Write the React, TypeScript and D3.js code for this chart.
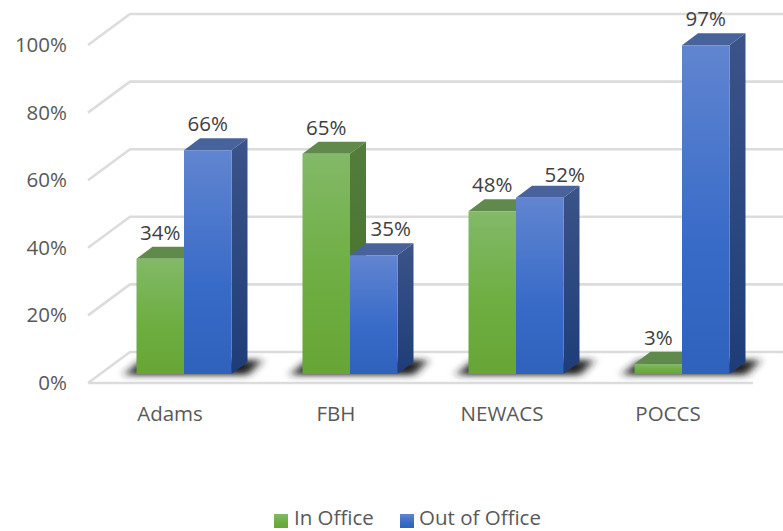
import React from 'react';
import * as d3 from 'd3';

const categories = ['Adams', 'FBH', 'NEWACS', 'POCCS'];
const seriesNames = ['In Office', 'Out of Office'];
const inOffice = [34, 65, 48, 3];
const outOfOffice = [66, 35, 52, 97];
const ticks = [0, 20, 40, 60, 80, 100];

const W = 783;
const H = 531;
const depthX = 16;
const depthY = 12;

// front face of the bars, axis front edge, and back wall
const y = d3.scaleLinear().domain([0, 100]).range([374, 35]);
const yAxis = d3.scaleLinear().domain([0, 100]).range([383, 45]);
const yBack = d3.scaleLinear().domain([0, 100]).range([352, 14]);
const x = d3.scaleBand().domain(categories).range([101, 765]).paddingInner(0);
const inner = d3.scaleBand().domain(seriesNames).range([-47.5, 47.5]);

const colors: Record<string, { side: string; top: string; front: string; swatch: string }> = {
  'In Office': { front: 'url(#greenFront)', side: 'url(#greenSide)', top: '#5f8a4b', swatch: 'url(#greenFront)' },
  'Out of Office': { front: 'url(#blueFront)', side: 'url(#blueSide)', top: '#48639c', swatch: 'url(#blueFront)' },
};

// hand placed labels in the original
const labelNudge: Record<string, [number, number]> = {
  'FBH-Out of Office': [17, 0],
  'NEWACS-Out of Office': [25, 3],
};

const line = d3.line();

const Bar = ({ cat, name, value }: { cat: string; name: string; value: number }) => {
  const c = colors[name];
  const x0 = (x(cat) as number) + x.bandwidth() / 2 + (inner(name) as number);
  const x1 = x0 + inner.bandwidth();
  const top = y(value);
  const bot = y(0);
  const front = `M${x0},${top}H${x1}V${bot}H${x0}Z`;
  const side = line([[x1, top], [x1 + depthX, top - depthY], [x1 + depthX, bot - depthY], [x1, bot]]) + 'Z';
  const lid = line([[x0, top], [x0 + depthX, top - depthY], [x1 + depthX, top - depthY], [x1, top]]) + 'Z';
  return (
    <g>
      <path d={lid} fill={c.top} />
      <path d={side} fill={c.side} />
      <path d={front} fill={c.front} />
    </g>
  );
};

export default function App() {
  const font = '"Open Sans", sans-serif';
  const rows = categories.map((cat, i) => ({ cat, a: inOffice[i], b: outOfOffice[i] }));
  return (
    <svg width={W} height={H} style={{ position: 'absolute', left: 0, top: 0, background: '#fff' }} fontFamily={font}>
      <defs>
        <linearGradient id="greenFront" x1="0" y1="0" x2="0" y2="1">
          <stop offset="0" stopColor="#83b968" />
          <stop offset="0.55" stopColor="#6eae42" />
          <stop offset="1" stopColor="#67a535" />
        </linearGradient>
        <linearGradient id="greenSide" x1="0" y1="0" x2="0" y2="1">
          <stop offset="0" stopColor="#547d3c" />
          <stop offset="1" stopColor="#436f27" />
        </linearGradient>
        <linearGradient id="blueFront" x1="0" y1="0" x2="0" y2="1">
          <stop offset="0" stopColor="#6185d0" />
          <stop offset="0.6" stopColor="#386bc8" />
          <stop offset="1" stopColor="#2f62bc" />
        </linearGradient>
        <linearGradient id="blueSide" x1="0" y1="0" x2="0" y2="1">
          <stop offset="0" stopColor="#3b5489" />
          <stop offset="1" stopColor="#1e3d78" />
        </linearGradient>
        <filter id="blur" x="-30%" y="-100%" width="160%" height="300%">
          <feGaussianBlur stdDeviation="5 3" />
        </filter>
      </defs>

      {/* back wall gridlines, side wall diagonals */}
      <g stroke="#dcdcdc" strokeWidth={2.6} fill="none">
        {ticks.map((t) => (
          <path key={t} d={`M88,${yAxis(t)}L130,${yBack(t)}H${W}`} />
        ))}
        <path d={`M88,${yAxis(0)}H753`} />
      </g>

      {/* floor shadows */}
      {rows.map((r) => {
        const cx = (x(r.cat) as number) + x.bandwidth() / 2;
        const yb = y(0);
        return (
          <path
            key={r.cat}
            d={line([[cx - 60, yb + 1], [cx - 42, yb - 14], [cx + 78, yb - 14], [cx + 64, yb + 1]]) + 'Z'}
            fill="#222"
            filter="url(#blur)"
          />
        );
      })}

      {/* bars: the blue front sits over the green side */}
      {rows.map((r) => (
        <g key={r.cat}>
          <Bar cat={r.cat} name={seriesNames[0]} value={r.a} />
          <Bar cat={r.cat} name={seriesNames[1]} value={r.b} />
        </g>
      ))}

      {/* value labels */}
      <g fontSize={20.5} fill="#404040" textAnchor="middle">
        {rows.flatMap((r) =>
          seriesNames.map((name, j) => {
            const value = j === 0 ? r.a : r.b;
            const nudge = labelNudge[`${r.cat}-${name}`] || [0, 0];
            const cx = (x(r.cat) as number) + x.bandwidth() / 2 + (inner(name) as number) + inner.bandwidth() / 2;
            return (
              <text key={r.cat + name} x={cx + nudge[0]} y={y(value) - 19 + nudge[1]}>
                {value}%
              </text>
            );
          })
        )}
      </g>

      {/* y axis labels */}
      <g fontSize={20.5} fill="#595959" textAnchor="end">
        {ticks.map((t) => (
          <text key={t} x={67} y={yAxis(t) + 7}>
            {t}%
          </text>
        ))}
      </g>

      {/* category labels */}
      <g fontSize={20.5} fill="#595959" textAnchor="middle">
        {categories.map((c) => (
          <text key={c} x={(x(c) as number) + x.bandwidth() / 2 - 14} y={421}>
            {c}
          </text>
        ))}
      </g>

      {/* legend */}
      <g fontSize={20.5} fill="#595959">
        <rect x={274} y={514} width={14} height={14} fill={colors[seriesNames[0]].swatch} />
        <text x={294} y={525}>{seriesNames[0]}</text>
        <rect x={400} y={514} width={14} height={14} fill={colors[seriesNames[1]].swatch} />
        <text x={419} y={525}>{seriesNames[1]}</text>
      </g>
    </svg>
  );
}
